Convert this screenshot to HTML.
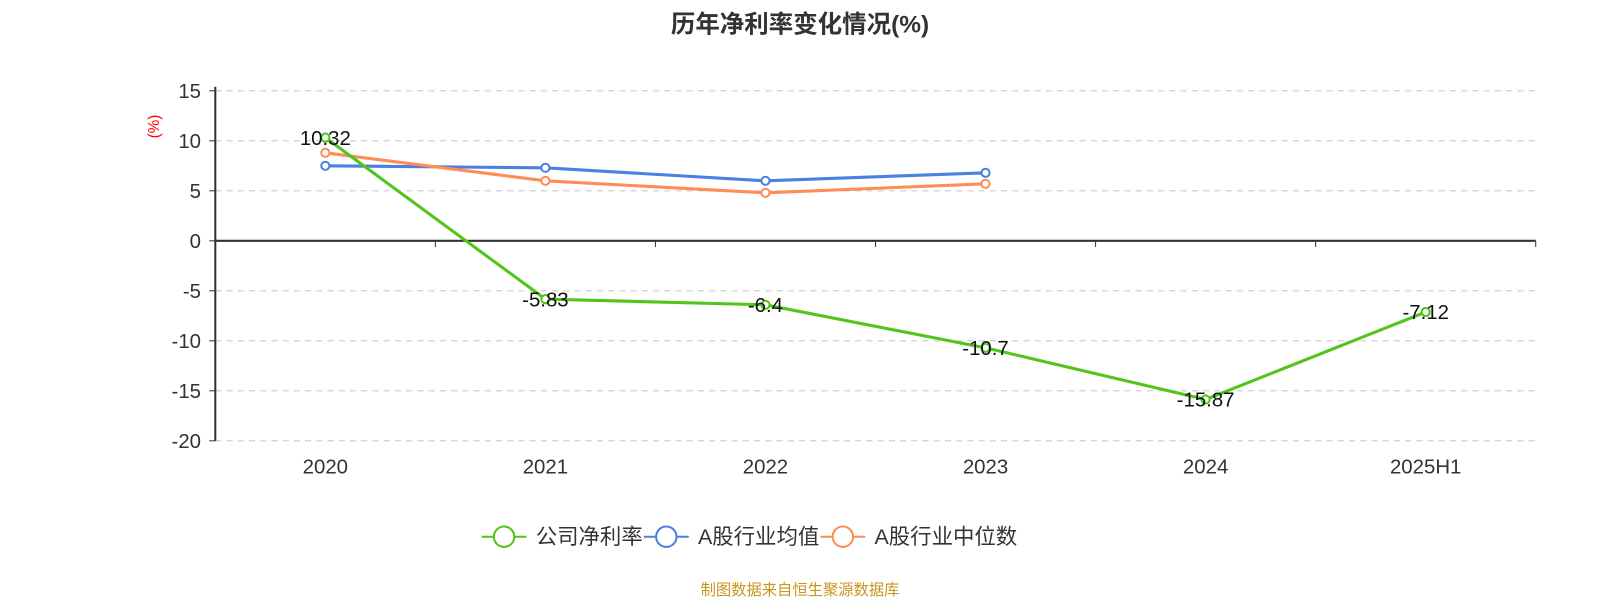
<!DOCTYPE html>
<html><head><meta charset="utf-8">
<style>
body{margin:0;background:#fff;width:1600px;height:600px;overflow:hidden;font-family:"Liberation Sans","Noto Sans CJK SC",sans-serif;}
svg text{font-family:"Liberation Sans","Noto Sans CJK SC",sans-serif;}
</style></head>
<body>
<svg id="chart" width="1600" height="600" viewBox="0 0 1568 588" xmlns="http://www.w3.org/2000/svg">
<text x="784" y="32" text-anchor="middle" font-size="24" font-weight="bold" fill="#333">历年净利率变化情况(%)</text>
<text transform="translate(156,124) rotate(-90)" text-anchor="middle" font-size="15" fill="#f00">(%)</text>
<g id="grid"></g><g id="axes"></g><g id="series"></g>
<g>
 <g>
  <line x1="472" y1="526" x2="516" y2="526" stroke="#52c41a" stroke-width="2"/><circle cx="494" cy="526" r="10" fill="#fff" stroke="#52c41a" stroke-width="2"/>
  <text x="525" y="533" font-size="21" fill="#333">公司净利率</text></g>
 <g>
  <line x1="631" y1="526" x2="675" y2="526" stroke="#4a7fe3" stroke-width="2"/><circle cx="653" cy="526" r="10" fill="#fff" stroke="#4a7fe3" stroke-width="2"/>
  <text x="684" y="533" font-size="21" fill="#333">A股行业均值</text></g>
 <g>
  <line x1="804" y1="526" x2="848" y2="526" stroke="#ff8c55" stroke-width="2"/><circle cx="826" cy="526" r="10" fill="#fff" stroke="#ff8c55" stroke-width="2"/>
  <text x="857" y="533" font-size="21" fill="#333">A股行业中位数</text></g>
</g>
<text x="784" y="583" text-anchor="middle" font-size="15" fill="#c8961e">制图数据来自恒生聚源数据库</text>
</svg>
<script>
const categories=["2020","2021","2022","2023","2024","2025H1"];
const companyValues=[10.32,-5.83,-6.4,-10.7,-15.87,-7.12];
const avgValues=[7.5,7.3,6.0,6.8];
const medianValues=[8.8,6.0,4.8,5.7];
const yTicks=[15,10,5,0,-5,-10,-15,-20];
const NS="http://www.w3.org/2000/svg";
const X0=211,X1=1505,Y15=89,Y20=432;
function y(v){return Y15+(15-v)*(Y20-Y15)/35;}
const bw=(X1-X0)/categories.length;
function x(i){return X0+bw*(i+0.5);}
function mk(tag,attrs,parent){const e=document.createElementNS(NS,tag);for(const k in attrs)e.setAttribute(k,attrs[k]);parent.appendChild(e);return e;}
const grid=document.getElementById('grid'),axes=document.getElementById('axes'),series=document.getElementById('series');
yTicks.forEach(t=>{
 if(t!==0){const g=mk('line',{x1:X0,x2:X1,y1:y(t),y2:y(t),stroke:'#ccc','stroke-dasharray':'6,5'},grid);
 }
 const tk=mk('line',{x1:X0-6,x2:X0,y1:y(t),y2:y(t),stroke:'#333'},axes);
 
 const tx=mk('text',{x:X0-14,y:y(t)+7,'text-anchor':'end','font-size':20,fill:'#333'},axes);tx.textContent=t;
 
});
const ya=mk('line',{x1:X0,x2:X0,y1:y(15)-4,y2:y(-20),stroke:'#333','stroke-width':2},axes);

const xa=mk('line',{x1:X0,x2:X1,y1:y(0),y2:y(0),stroke:'#333','stroke-width':2},axes);

for(let i=1;i<=categories.length;i++){const tk=mk('line',{x1:X0+bw*i,x2:X0+bw*i,y1:y(0),y2:y(0)+6,stroke:'#333'},axes);
 }
categories.forEach((c,i)=>{const t=mk('text',{x:x(i),y:464,'text-anchor':'middle','font-size':20,fill:'#333'},axes);t.textContent=c;
 });
function drawSeries(vals,color,name,labels){
 const p=mk('polyline',{points:vals.map((v,i)=>x(i)+','+y(v)).join(' '),fill:'none',stroke:color,'stroke-width':3},series);
 
 vals.forEach((v,i)=>{const c=mk('circle',{cx:x(i),cy:y(v),r:4,fill:'#fff',stroke:color,'stroke-width':2},series);
  
  if(labels){const t=mk('text',{x:x(i),y:y(v)+7,'text-anchor':'middle','font-size':20,fill:'#111'},series);t.textContent=v;
   }});
}
drawSeries(avgValues,'#4a7fe3','industry-avg',false);
drawSeries(medianValues,'#ff8c55','industry-median',false);
drawSeries(companyValues,'#52c41a','company',true);
</script>
</body></html>
